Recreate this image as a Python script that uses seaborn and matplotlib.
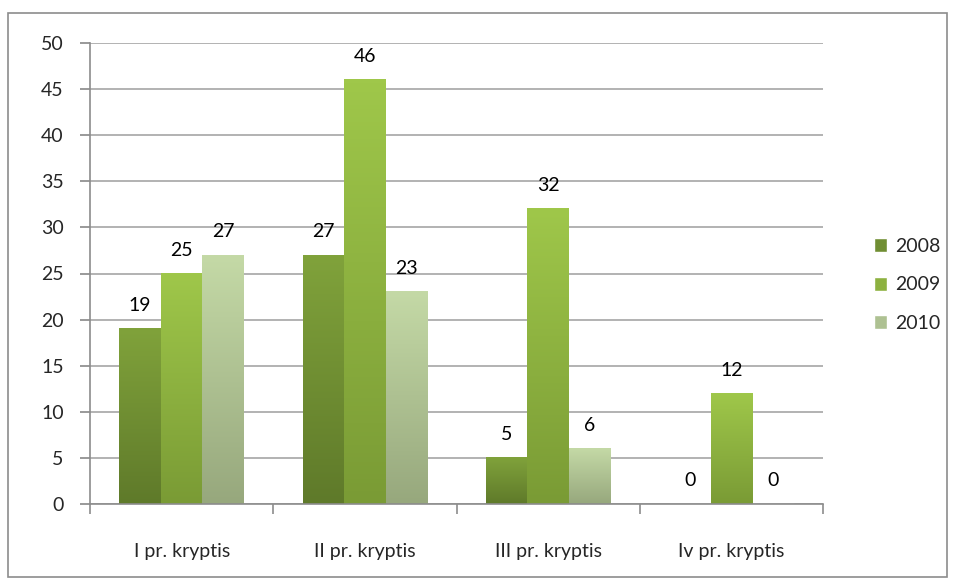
import numpy as np
import pandas as pd
import matplotlib
matplotlib.use("Agg")
import matplotlib.pyplot as plt
from matplotlib.colors import LinearSegmentedColormap
from matplotlib.patches import Rectangle, Patch
import seaborn as sns

categories = ["I pr. kryptis", "II pr. kryptis", "III pr. kryptis", "Iv pr. kryptis"]
years = ["2008", "2009", "2010"]
v2008 = [19, 27, 5, 0]
v2009 = [25, 46, 32, 12]
v2010 = [27, 23, 6, 0]

# top / bottom colours of the gradient fill for each series
top_cols = ["#80a23b", "#9fc74a", "#c4d9a6"]
bot_cols = ["#5f7a2a", "#7a9b35", "#97a87d"]

df = pd.DataFrame({
    "cat": categories * 3,
    "year": [y for y in years for _ in categories],
    "val": v2008 + v2009 + v2010,
})

sns.set_theme(style="white")
plt.rcParams["font.family"] = ["Lato", "DejaVu Sans"]
fs = 14

fig = plt.figure(figsize=(9.55, 5.82), dpi=100)
ax = fig.add_axes([90 / 955, 1 - 504 / 582, (823 - 90) / 955, (504 - 43) / 582])

sns.barplot(data=df, x="cat", y="val", hue="year", palette=top_cols,
            width=0.68, gap=0, ax=ax, legend=False, saturation=1)

ax.set_ylim(0, 50)
ax.set_xlim(-0.5, 3.5)
ax.set_yticks(range(0, 51, 5))
ax.yaxis.grid(True, color="#a6a6a6", linewidth=1.2)
ax.set_axisbelow(True)
for s in ["top", "right"]:
    ax.spines[s].set_visible(False)
for s in ["left", "bottom"]:
    ax.spines[s].set_color("#8c8c8c")
    ax.spines[s].set_linewidth(1.2)
ax.tick_params(axis="y", which="major", left=True, length=7, color="#8c8c8c",
               labelsize=fs, pad=12)
ax.tick_params(axis="x", which="major", length=0, labelsize=fs, pad=28)
ax.set_xticks(np.arange(-0.5, 4, 1), minor=True)
ax.tick_params(axis="x", which="minor", bottom=True, length=7, color="#8c8c8c", width=1.2)
ax.set_xlabel("")
ax.set_ylabel("")

# gradient fill and value labels
for ci, cont in enumerate(ax.containers):
    cmap = LinearSegmentedColormap.from_list("g", [bot_cols[ci], top_cols[ci]])
    for bar in cont:
        h = bar.get_height()
        x0 = bar.get_x()
        w = bar.get_width()
        if h > 0:
            grad = np.linspace(0, 1, 100).reshape(-1, 1)
            ax.imshow(grad, cmap=cmap, origin="lower", aspect="auto",
                      extent=(x0, x0 + w, 0, h), zorder=2)
            bar.set_facecolor("none")
            bar.set_edgecolor("none")
        ax.text(x0 + w / 2, h + 1.6, f"{int(h)}", ha="center", va="bottom",
                fontsize=fs, color="black")
ax.set_xlim(-0.5, 3.5)
ax.set_ylim(0, 50)

handles = [Patch(facecolor=(np.array(matplotlib.colors.to_rgb(t)) + np.array(matplotlib.colors.to_rgb(b))) / 2)
           for t, b in zip(top_cols, bot_cols)]
fig.legend(handles, years, loc="center left", bbox_to_anchor=(856 / 955, 1 - 285 / 582),
           frameon=False, fontsize=fs, handlelength=0.7, handleheight=0.7,
           handletextpad=0.4, labelspacing=1.1)

fig.patches.append(Rectangle((8 / 955, 1 - 577 / 582), 939 / 955, 564 / 582,
                             transform=fig.transFigure, fill=False,
                             edgecolor="#8c8c8c", linewidth=1.2))

fig.savefig("out.png", dpi=100)
